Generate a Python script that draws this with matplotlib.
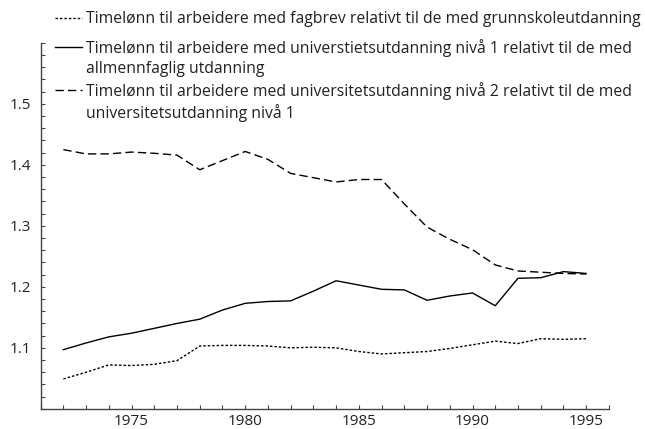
import matplotlib
matplotlib.use("Agg")
import matplotlib.pyplot as plt
from matplotlib.lines import Line2D
from matplotlib.ticker import MultipleLocator

plt.rcParams['font.family'] = ['Open Sans', 'DejaVu Sans']

years = list(range(1972, 1996))

# fagbrev / grunnskole
fagbrev = [1.049, 1.060, 1.072, 1.071, 1.073, 1.079, 1.103, 1.104, 1.104, 1.103,
           1.100, 1.101, 1.100, 1.094, 1.090, 1.092, 1.094, 1.099, 1.105, 1.111,
           1.107, 1.115, 1.114, 1.115]

# universitet nivå 1 / allmennfaglig
uni1 = [1.097, 1.108, 1.118, 1.124, 1.132, 1.140, 1.147, 1.162, 1.173, 1.176,
        1.177, 1.193, 1.210, 1.203, 1.196, 1.195, 1.178, 1.185, 1.190, 1.169,
        1.214, 1.215, 1.225, 1.222]

# universitet nivå 2 / nivå 1
uni2 = [1.425, 1.418, 1.418, 1.421, 1.419, 1.416, 1.392, 1.407, 1.422, 1.409,
        1.386, 1.379, 1.372, 1.376, 1.376, 1.336, 1.298, 1.278, 1.261, 1.236,
        1.226, 1.224, 1.222, 1.221]

labels = [
    "Timelønn til arbeidere med fagbrev relativt til de med grunnskoleutdanning",
    "Timelønn til arbeidere med universtietsutdanning nivå 1 relativt til de med",
    "allmennfaglig utdanning",
    "Timelønn til arbeidere med universitetsutdanning nivå 2 relativt til de med",
    "universitetsutdanning nivå 1",
]

fig = plt.figure(figsize=(6.45, 4.29), dpi=100)
ax = fig.add_axes([0.063, 0.047, 0.881, 0.853])

l1, = ax.plot(years, fagbrev, color='black', lw=1.0, linestyle=(0, (1.8, 1.4)))
l2, = ax.plot(years, uni1, color='black', lw=1.0)
l3, = ax.plot(years, uni2, color='black', lw=1.0, linestyle=(0, (6, 3)))

ax.set_xlim(1971, 1996)
ax.set_ylim(1.0, 1.6)
ax.set_xticks([1975, 1980, 1985, 1990, 1995])
ax.set_yticks([1.1, 1.2, 1.3, 1.4, 1.5])
ax.xaxis.set_minor_locator(MultipleLocator(1))
ax.yaxis.set_minor_locator(MultipleLocator(0.02))
ax.tick_params(which='both', direction='in', length=3, width=0.8, color='#444444',
               labelsize=11, labelcolor='#222222')
ax.tick_params(axis='y', which='both', pad=7)
ax.tick_params(axis='x', which='both', pad=4)
for s in ['top', 'right']:
    ax.spines[s].set_visible(False)
for s in ['left', 'bottom']:
    ax.spines[s].set_color('#444444')
    ax.spines[s].set_linewidth(1.0)

# legend in two blocks (first entry sits a bit apart)
leg_kw = dict(loc='upper left', frameon=False, borderpad=0, borderaxespad=0,
              handlelength=1.75, handletextpad=0.2, labelspacing=0.28,
              fontsize=11.3, labelcolor='#222222')
blank = Line2D([], [], color='none')
fig.legend([l1], labels[:1], bbox_to_anchor=(55 / 645, 1 - 11 / 429), **leg_kw)
fig.legend([l2, blank, l3, blank], labels[1:],
           bbox_to_anchor=(55 / 645, 1 - 39 / 429), **leg_kw)

fig.savefig('out.png', dpi=100)
